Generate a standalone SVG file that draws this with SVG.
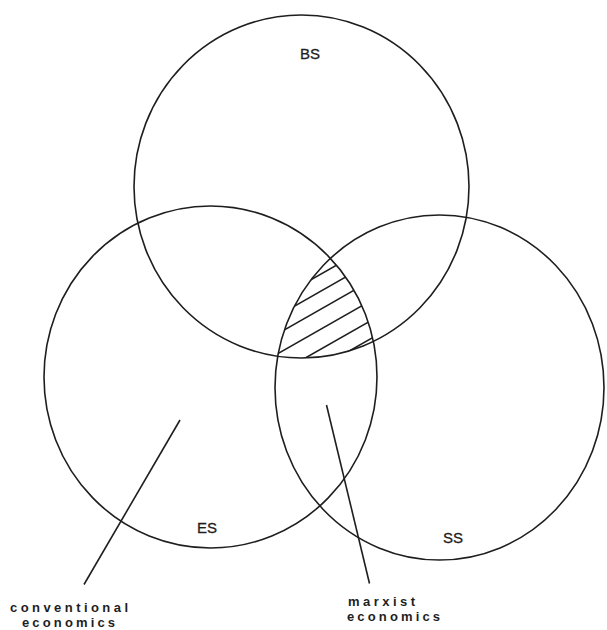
<svg xmlns="http://www.w3.org/2000/svg" width="607" height="630" viewBox="0 0 607 630">
  <style>
    .set { fill: none; stroke: #1e1e1e; stroke-width: 1.6; }
    .hatch { stroke: #1e1e1e; stroke-width: 1.6; }
    .ptr { stroke: #1e1e1e; stroke-width: 1.6; fill: none; }
    .lbl { font-family: "Liberation Sans", Arial, sans-serif; font-size: 15px; fill: #1e1e1e; stroke: #1e1e1e; stroke-width: 0.3; }
    .cap { font-family: "Liberation Sans", Arial, sans-serif; font-size: 13px; font-weight: bold; fill: #1e1e1e; }
  </style>
  <defs>
    <clipPath id="cBS"><ellipse cx="301.5" cy="186.5" rx="167.5" ry="171.5"/></clipPath>
    <clipPath id="cES"><ellipse cx="210.5" cy="377" rx="166.5" ry="171"/></clipPath>
    <clipPath id="cSS"><ellipse cx="439.5" cy="387.5" rx="164.5" ry="172.5"/></clipPath>
  </defs>
  <rect width="607" height="630" fill="#ffffff"/>

  <g id="BS">
    <ellipse class="set" cx="301.5" cy="186.5" rx="167.5" ry="171.5"/>
    <text class="lbl" x="300" y="59">BS</text>
  </g>
  <g id="ES">
    <ellipse class="set" cx="210.5" cy="377" rx="166.5" ry="171"/>
    <text class="lbl" x="197" y="533">ES</text>
  </g>
  <g id="SS">
    <ellipse class="set" cx="439.5" cy="387.5" rx="164.5" ry="172.5"/>
    <text class="lbl" x="443" y="543">SS</text>
  </g>

  <g id="overlap-hatch" clip-path="url(#cBS)">
    <g clip-path="url(#cES)">
      <g clip-path="url(#cSS)">
        <line class="hatch" x1="260" y1="308.8" x2="390" y2="234.7"/>
        <line class="hatch" x1="260" y1="325.8" x2="390" y2="251.7"/>
        <line class="hatch" x1="260" y1="343.8" x2="390" y2="269.7"/>
        <line class="hatch" x1="260" y1="363.8" x2="390" y2="289.7"/>
        <line class="hatch" x1="260" y1="383.8" x2="390" y2="309.7"/>
        <line class="hatch" x1="260" y1="401.8" x2="390" y2="327.7"/>
      </g>
    </g>
  </g>

  <g id="connectors">
    <line class="ptr" x1="180" y1="420" x2="84" y2="584.5"/>
    <line class="ptr" x1="326.5" y1="405" x2="369.5" y2="583.5"/>
  </g>

  <g id="label-conventional">
    <text class="cap" x="10" y="612" textLength="118" lengthAdjust="spacing">conventional</text>
    <text class="cap" x="22" y="627" textLength="93" lengthAdjust="spacing">economics</text>
  </g>
  <g id="label-marxist">
    <text class="cap" x="348" y="606" textLength="67" lengthAdjust="spacing">marxist</text>
    <text class="cap" x="347" y="621" textLength="93" lengthAdjust="spacing">economics</text>
  </g>
</svg>
